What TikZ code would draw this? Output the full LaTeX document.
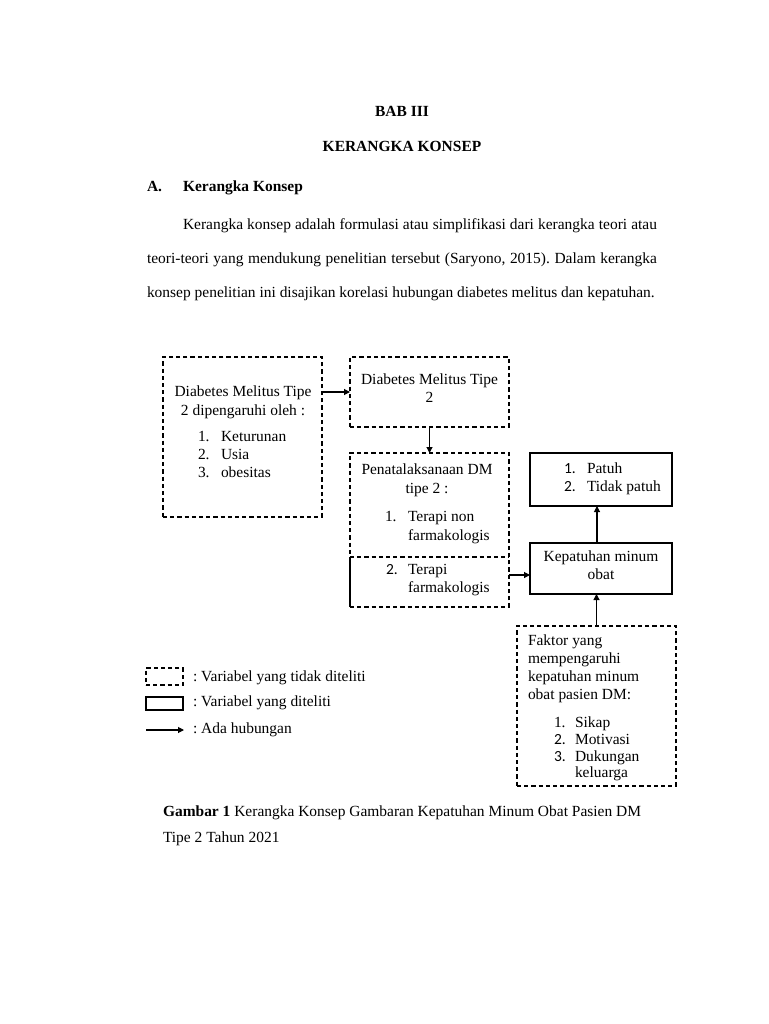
\documentclass[tikz,border=0pt]{standalone}
\usepackage{fontspec}
\setmainfont{Liberation Serif}
\newfontfamily\numsans{Carlito}
\usetikzlibrary{fit,calc,arrows.meta}
\frenchspacing
\begin{document}
\begin{tikzpicture}[x=0.75pt,y=-0.75pt,
  every node/.style={font=\fontsize{11.6}{13}\selectfont, inner sep=0pt, outer sep=0pt},
  t/.style={anchor=base},
  tl/.style={anchor=base west},
  dbox/.style={draw, dash pattern=on 3.2pt off 2.2pt, line width=0.9pt, inner sep=0pt},
  sbox/.style={draw, line width=0.9pt, inner sep=0pt},
  arr/.style={-{Triangle[length=4.5pt,width=4.5pt]}, line width=0.8pt},
]
\useasboundingbox[fill=white] (0,0) rectangle (768,1024);

% header
\node[t] (h1) at (402,116) {\textbf{BAB III}};
\node[t] (h2) at (402,151) {\textbf{KERANGKA KONSEP}};
\node[tl] (h3) at (147,191) {\textbf{A.}};
\node[tl] (h4) at (183,191) {\textbf{Kerangka Konsep}};
\node[tl] (p1) at (183,229) {\makebox[355.5pt][s]{Kerangka konsep adalah formulasi atau simplifikasi dari kerangka teori atau}};
\node[tl] (p2) at (147,263) {\makebox[382.5pt][s]{teori-teori yang mendukung penelitian tersebut (Saryono, 2015). Dalam kerangka}};
\node[tl] (p3) at (147,297) {konsep penelitian ini disajikan korelasi hubungan diabetes melitus dan kepatuhan.};

% boxes
\node[dbox, fit={(163,357)(322,517)}] (A) {};
\node[dbox, fit={(350,357)(509,427)}] (B) {};
\node[dbox, fit={(350,453)(509,607)}] (C) {};
\node[sbox, fit={(530,453)(672,506)}] (D) {};
\node[sbox, fit={(530,543)(672,594)}] (E) {};
\node[dbox, fit={(517,626)(676,786)}] (F) {};

% divider in C and solid left edge of its lower part
\coordinate (cdl) at (350,557);
\coordinate (cdr) at (509,557);
\draw[dash pattern=on 3.2pt off 2.2pt, line width=0.9pt] (cdl) -- (cdr);
\draw[line width=0.9pt] (cdl) -- (cdl |- C.south);

% text box A
\node[t] (a1) at (243,396) {Diabetes Melitus Tipe};
\node[t] (a2) at (243,415) {2 dipengaruhi oleh :};
\node[tl] (a3n) at (198,441) {1.};
\node[tl] (a3) at (221,441) {Keturunan};
\node[tl] (a4n) at (198,459) {2.};
\node[tl] (a4) at (221,459) {Usia};
\node[tl] (a5n) at (198,477) {3.};
\node[tl] (a5) at (221,477) {obesitas};

% text box B
\node[t] (b1) at (429.5,384) {Diabetes Melitus Tipe};
\node[t] (b2) at (429.5,402) {2};

% text box C
\node[t] (c1) at (427,474) {Penatalaksanaan DM};
\node[t] (c2) at (427,493) {tipe 2 :};
\node[tl] (c3n) at (385,521) {1.};
\node[tl] (c3) at (408,521) {Terapi non};
\node[tl] (c4) at (408,540) {farmakologis};
\node[tl] (c5n) at (386,574) {\numsans 2.};
\node[tl] (c5) at (408,574) {Terapi};
\node[tl] (c6) at (408,592) {farmakologis};

% text box D
\node[tl] (d1n) at (564,473) {\numsans 1.};
\node[tl] (d1) at (587,473) {Patuh};
\node[tl] (d2n) at (564,491) {\numsans 2.};
\node[tl] (d2) at (587,491) {Tidak patuh};

% text box E
\node[t] (e1) at (601,561) {Kepatuhan minum};
\node[t] (e2) at (601,579) {obat};

% text box F
\node[tl] (f1) at (528,645) {Faktor yang};
\node[tl] (f2) at (528,663) {mempengaruhi};
\node[tl] (f3) at (528,681) {kepatuhan minum};
\node[tl] (f4) at (528,699) {obat pasien DM:};
\node[tl] (f5n) at (554,727) {1.};
\node[tl] (f5) at (575,727) {Sikap};
\node[tl] (f6n) at (554,744) {\numsans 2.};
\node[tl] (f6) at (575,744) {Motivasi};
\node[tl] (f7n) at (554,761) {\numsans 3.};
\node[tl] (f7) at (575,761) {Dukungan};
\node[tl] (f8) at (575,777) {keluarga};

% connectors
\draw[arr] (A.east |- B.west) -- (B.west);
\draw[arr] (B.south) -- (C.north);
\coordinate (cy) at (0,575);
\draw[arr] (C.east |- cy) -- (E.west |- cy);
\draw[arr] ($(E.north)+(-4,0)$) -- ($(D.south)+(-4,0)$);
\draw[arr] (F.north) -- (F.north |- E.south);

% legend
\node[dbox, fit={(146,668)(183,685)}] (L1) {};
\node[sbox, fit={(146,697)(183,710)}] (L2) {};
\coordinate (L3a) at (146,730);
\coordinate (L3b) at (184,730);
\draw[arr] (L3a) -- (L3b);
\node[tl] (l1) at (193,681) {: Variabel yang tidak diteliti};
\node[tl] (l2) at (193,706) {: Variabel yang diteliti};
\node[tl] (l3) at (193,733) {: Ada hubungan};

% caption
\node[tl] (g1) at (163,816) {\textbf{Gambar 1} Kerangka Konsep Gambaran Kepatuhan Minum Obat Pasien DM};
\node[tl] (g2) at (163,842) {Tipe 2 Tahun 2021};
\end{tikzpicture}
\end{document}
